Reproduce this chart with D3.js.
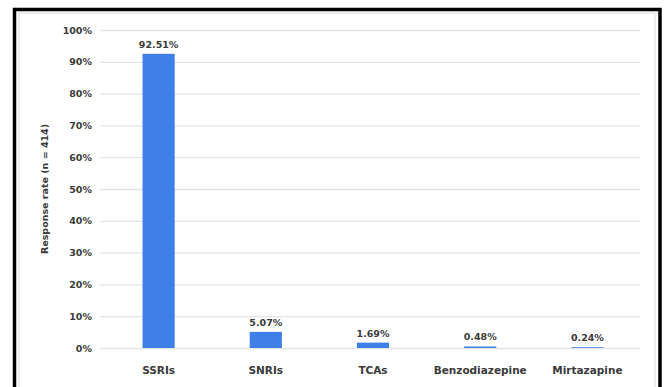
<!DOCTYPE html>
<html>
<head>
<meta charset="utf-8">
<script src="https://cdn.jsdelivr.net/npm/d3@7"></script>
<style>
  html, body { margin: 0; padding: 0; background: #fff; }
  svg { display: block; }
  text { font-family: "DejaVu Sans", sans-serif; font-weight: 700; fill: #3a3a3a; }
</style>
</head>
<body>
<svg id="chart" width="665" height="387"></svg>
<script>
// Antidepressant classes and share of responses
const categories = ["SSRIs", "SNRIs", "TCAs", "Benzodiazepine", "Mirtazapine"];
const values = [92.51, 5.07, 1.69, 0.48, 0.24];
const yTicks = [0, 10, 20, 30, 40, 50, 60, 70, 80, 90, 100];
const yTitle = "Response rate (n = 414)";

const svg = d3.select("#chart");
const W = 665, H = 387;
const plot = { left: 105, right: 641, top: 30, bottom: 348 };
const FONT = "'DejaVu Sans', sans-serif";

svg.append("rect").attr("width", W).attr("height", H).attr("fill", "#fff");

// faint chart-area edge and the outer black frame
svg.append("rect")
  .attr("x", 19).attr("y", 13).attr("width", 636).attr("height", 380)
  .attr("fill", "none").attr("stroke", "#ededed").attr("stroke-width", 2);
svg.append("rect")
  .attr("x", 14.5).attr("y", 9.5).attr("width", 645.5).attr("height", 400)
  .attr("fill", "none").attr("stroke", "#000").attr("stroke-width", 3.5);

const x = d3.scaleBand()
  .domain(categories)
  .range([plot.left, plot.right])
  .paddingInner(0.7)
  .paddingOuter(0.35);

const y = d3.scaleLinear().domain([0, 100]).range([plot.bottom, plot.top]);

// gridlines and y tick labels
const yAxis = d3.axisLeft(y)
  .tickValues(yTicks)
  .tickFormat(d => d + "%")
  .tickSize(-(640 - 100))
  .tickPadding(8);

const gy = svg.append("g")
  .attr("transform", `translate(100,0)`)
  .call(yAxis);
gy.select(".domain").remove();
gy.selectAll(".tick line").attr("stroke", "#e4e4e4").attr("stroke-width", 1.3);
gy.selectAll(".tick text")
  .attr("font-size", 9.5)
  .attr("x", -8)
  .style("font-family", FONT)
  .style("font-weight", 700)
  .attr("fill", "#3a3a3a");

// bars
svg.append("g").selectAll("rect")
  .data(values)
  .join("rect")
  .attr("x", (d, i) => x(categories[i]))
  .attr("y", d => y(d))
  .attr("width", x.bandwidth())
  .attr("height", d => y(0) - y(d))
  .attr("fill", "#3f7fe8");

// value labels
svg.append("g").selectAll("text")
  .data(values)
  .join("text")
  .attr("x", (d, i) => x(categories[i]) + x.bandwidth() / 2)
  .attr("y", d => y(d) - 6)
  .attr("text-anchor", "middle")
  .attr("font-size", 9.5)
  .text(d => d.toFixed(2) + "%");

// category labels
const xAxis = d3.axisBottom(x).tickSize(0).tickPadding(0);
const gx = svg.append("g")
  .attr("transform", `translate(0,${plot.bottom})`)
  .call(xAxis);
gx.select(".domain").remove();
gx.selectAll(".tick text")
  .attr("dy", 0)
  .attr("y", 26)
  .attr("font-size", 10.5)
  .style("font-family", FONT)
  .style("font-weight", 700)
  .attr("fill", "#3a3a3a");

// y axis title
svg.append("text")
  .attr("transform", `translate(48,${(plot.top + plot.bottom) / 2}) rotate(-90)`)
  .attr("text-anchor", "middle")
  .attr("font-size", 9.5)
  .text(yTitle);
</script>
</body>
</html>
